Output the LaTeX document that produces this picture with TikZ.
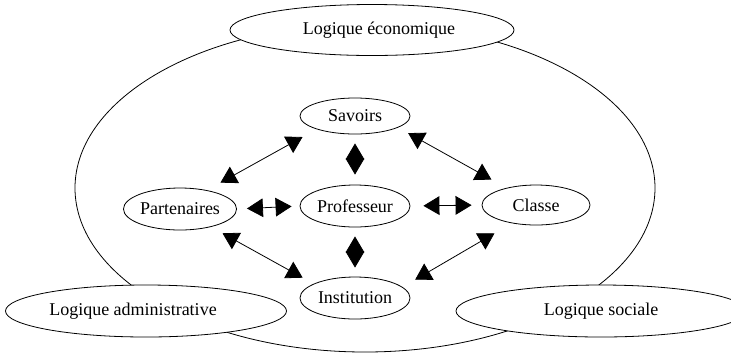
\documentclass[tikz,border=0pt]{standalone}
\usepackage{fontspec}
\setmainfont{Liberation Serif}
\usetikzlibrary{shapes,arrows.meta,positioning}

\begin{document}
\begin{tikzpicture}[x=0.75pt,y=-0.75pt,line width=0.6pt,
  every node/.style={font=\fontsize{13.5}{16}\selectfont},
  bulle/.style={draw,ellipse,fill=white,inner sep=0pt,minimum width=82.5pt,minimum height=31.5pt},
  logique/.style={draw,ellipse,fill=white,inner sep=0pt,minimum height=39pt},
  fleche/.style={{Triangle[length=12pt,width=14pt]}-{Triangle[length=12pt,width=14pt]}}]
\useasboundingbox (0,0) rectangle (731,358);

\node[draw,ellipse,minimum width=435pt,minimum height=246pt] (cadre) at (365,188) {};
\node[logique,minimum width=213pt,minimum height=38.25pt] (eco) at (372,30) {\hspace*{10.5pt}Logique économique};
\node[logique,minimum width=210.75pt] (admin) at (146,311) {\hspace*{-19.5pt}Logique administrative};
\node[logique,minimum width=217.5pt] (sociale) at (601,311) {Logique sociale};

\node[bulle,minimum height=27pt] (savoirs) at (355,116) {Savoirs};
\node[bulle] (prof) at (355,206) {Professeur};
\node[bulle] (partenaires) at (180,209) {Partenaires};
\node[bulle,minimum width=81pt,minimum height=30pt] (classe) at (536,205) {Classe};
\node[bulle] (institution) at (355,298) {Institution};

\draw[fleche,shorten <=6.75pt,shorten >=7.5pt] (savoirs.south) -- (prof.north);
\draw[fleche,shorten <=6.75pt,shorten >=6.75pt] (prof.south) -- (institution.north);
\draw[fleche,shorten <=7.5pt,shorten >=6pt] (partenaires.east) -- (prof.west);
\draw[fleche,shorten <=9.75pt,shorten >=7.5pt] (prof.east) -- (classe.west);

\draw[fleche,shorten <=11.6pt,shorten >=12pt] (partenaires.35) -- (savoirs.199);
\draw[fleche,shorten <=8.6pt,shorten >=12.8pt] (savoirs.345) -- (classe.150);
\draw[fleche,shorten <=9.8pt,shorten >=9.4pt] (partenaires.330) -- (institution.161);
\draw[fleche,shorten <=15pt,shorten >=10.9pt] (classe.217) -- (institution.13);
\end{tikzpicture}
\end{document}
